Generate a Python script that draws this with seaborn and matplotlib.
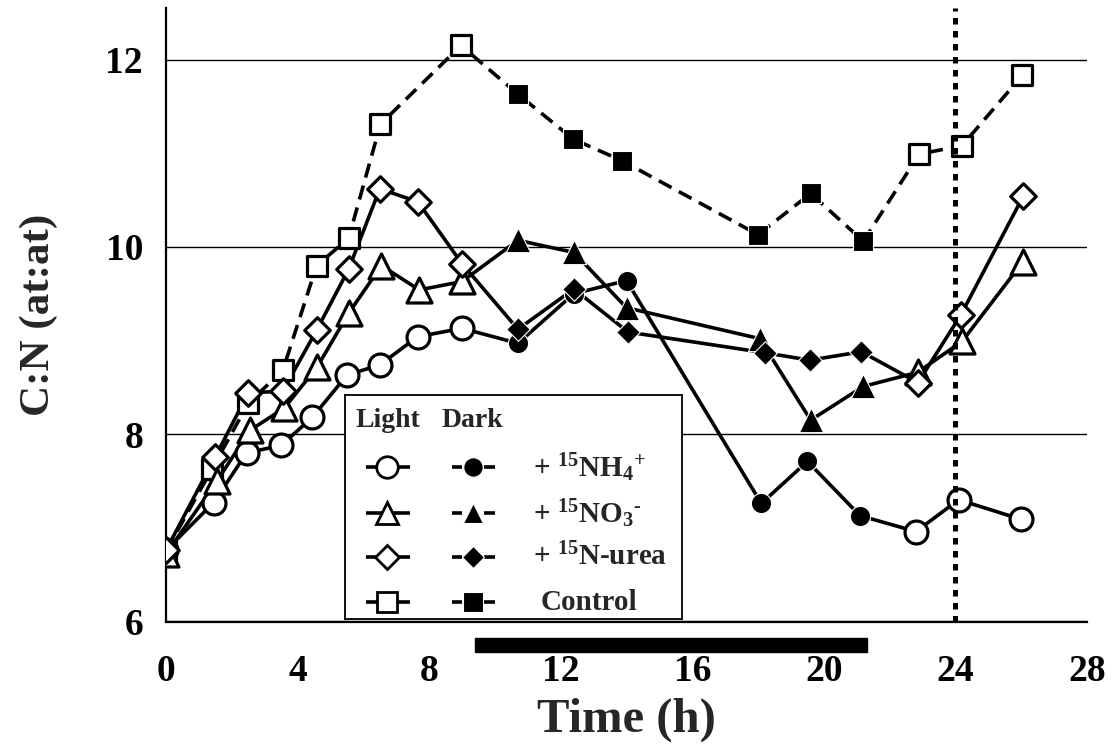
import numpy as np
import pandas as pd
import matplotlib
matplotlib.use("Agg")
import matplotlib.pyplot as plt
import matplotlib.transforms as mtransforms
from matplotlib.patches import Rectangle
import seaborn as sns

# ---------------- data ----------------
nh4_time = [0, 1.45, 2.45, 3.5, 4.45, 5.5, 6.5, 7.65, 9.0, 10.7, 12.4, 14.0, 18.1, 19.5, 21.1, 22.8, 24.1, 26.0]
nh4_cn = [6.76, 7.27, 7.80, 7.88, 8.18, 8.63, 8.74, 9.04, 9.13, 8.97, 9.50, 9.64, 7.26, 7.71, 7.13, 6.96, 7.30, 7.09]

no3_time = [0, 1.55, 2.55, 3.6, 4.6, 5.55, 6.55, 7.7, 9.0, 10.7, 12.4, 14.0, 18.05, 19.6, 21.2, 22.85, 24.2, 26.05]
no3_cn = [6.72, 7.50, 8.04, 8.28, 8.72, 9.29, 9.80, 9.54, 9.63, 10.07, 9.94, 9.35, 9.02, 8.15, 8.51, 8.66, 8.99, 9.84]

urea_time = [0, 1.5, 2.5, 3.55, 4.58, 5.55, 6.5, 7.66, 9.0, 10.7, 12.4, 14.05, 18.2, 19.57, 21.14, 22.86, 24.16, 26.06]
urea_cn = [6.76, 7.76, 8.44, 8.46, 9.11, 9.76, 10.62, 10.48, 9.82, 9.12, 9.55, 9.09, 8.87, 8.79, 8.88, 8.55, 9.27, 10.54]

ctrl_time = [0, 1.4, 2.5, 3.55, 4.58, 5.55, 6.52, 8.97, 10.7, 12.38, 13.86, 18.0, 19.6, 21.2, 22.9, 24.2, 26.03]
ctrl_cn = [6.75, 7.63, 8.33, 8.68, 9.80, 10.09, 11.31, 12.15, 11.63, 11.15, 10.92, 10.13, 10.57, 10.06, 10.99, 11.08, 11.83]

dark_period = [9.4, 21.3]
marker_24h = 24
x_ticks = [0, 4, 8, 12, 16, 20, 24, 28]
y_ticks = [6, 8, 10, 12]

series_labels = [r"+ $^{15}$NH$_{4}$$^{+}$", r"+ $^{15}$NO$_{3}$$^{\text{-}}$", r"+ $^{15}$N-urea", "Control"]

# ---------------- style ----------------
sns.set_style("white")
FONT = "Liberation Serif"
plt.rcParams["font.family"] = [FONT, "DejaVu Serif"]
plt.rcParams["font.weight"] = "bold"
plt.rcParams["mathtext.fontset"] = "custom"
plt.rcParams["mathtext.rm"] = FONT + ":bold"
plt.rcParams["mathtext.it"] = FONT + ":bold"
plt.rcParams["mathtext.bf"] = FONT + ":bold"
plt.rcParams["mathtext.default"] = "rm"

W, H = 1111, 750
fig = plt.figure(figsize=(W / 100, H / 100), dpi=100)
fig.patch.set_facecolor("white")
ax_l, ax_r, ax_b, ax_t = 166, 1087, 621.5, 8
ax = fig.add_axes([ax_l / W, 1 - ax_b / H, (ax_r - ax_l) / W, (ax_b - ax_t) / H])

LW = 2.6
specs = [
    # time, values, marker, open size(pt), filled size(pt), linestyle
    (nh4_time, nh4_cn, "o", 16.5, 14.5, "-"),
    (no3_time, no3_cn, "^", 18.0, 17.5, "-"),
    (urea_time, urea_cn, "D", 13.0, 12.0, "-"),
    (ctrl_time, ctrl_cn, "s", 15.0, 14.5, (0, (4, 2.3))),
]
draw_order = [3, 0, 1, 2]

for i in draw_order:
    t, v, m, so, sf, ls = specs[i]
    df = pd.DataFrame({"t": t, "v": v})
    sns.lineplot(data=df, x="t", y="v", ax=ax, color="black", linewidth=LW,
                 linestyle=ls, sort=False, estimator=None, zorder=2)

z = 3
for i in draw_order:
    t, v, m, so, sf, ls = specs[i]
    df = pd.DataFrame({"t": t, "v": v})
    dark = (df["t"] > dark_period[0]) & (df["t"] < dark_period[1])
    sns.scatterplot(data=df[~dark], x="t", y="v", ax=ax, marker=m, s=so ** 2,
                    color="white", edgecolor="black", linewidth=2.3, zorder=z)
    sns.scatterplot(data=df[dark], x="t", y="v", ax=ax, marker=m, s=sf ** 2,
                    color="black", edgecolor="white", linewidth=0.8, zorder=z)
    z += 1

ax.axvline(marker_24h, color="black", lw=3.6, linestyle=(0, (1.3, 1.3)),
           dash_capstyle="butt", zorder=6)

ax.set_xlim(0, 28)
ax.set_ylim(6, 12.55)
ax.set_xticks(x_ticks)
ax.set_yticks(y_ticks)
ax.set_xticklabels([str(x) for x in x_ticks])
ax.set_yticklabels([str(y) for y in y_ticks])
ax.yaxis.grid(True, color="black", lw=1.0)
ax.xaxis.grid(False)
ax.set_axisbelow(True)
for s in ["top", "right"]:
    ax.spines[s].set_visible(False)
for s in ["left", "bottom"]:
    ax.spines[s].set_color("black")
    ax.spines[s].set_linewidth(1.6)
ax.tick_params(axis="both", direction="out", length=7.5, width=1.4, colors="black",
               labelsize=27)
ax.tick_params(axis="x", pad=16)
ax.tick_params(axis="y", pad=9)
for lab in ax.get_xticklabels() + ax.get_yticklabels():
    lab.set_fontweight("bold")
ax.set_xlabel("Time (h)", fontsize=35, fontweight="bold", labelpad=6)
ax.set_ylabel("C:N (at:at)", fontsize=31, fontweight="bold", labelpad=34)

# dark period bar below the axis
trans = mtransforms.blended_transform_factory(ax.transData, ax.transAxes)
bar_top = (ax_b - 638) / (ax_b - ax_t)
bar_bot = (ax_b - 652) / (ax_b - ax_t)
ax.add_patch(Rectangle((dark_period[0], bar_bot), dark_period[1] - dark_period[0],
                       bar_top - bar_bot, transform=trans, color="black",
                       clip_on=False, zorder=5))

# ---------------- legend (custom box) ----------------
lx0, lx1, ly0, ly1 = 345, 682, 395, 619.3
lg = fig.add_axes([lx0 / W, 1 - ly1 / H, (lx1 - lx0) / W, (ly1 - ly0) / H])
lg.set_xlim(0, lx1 - lx0)
lg.set_ylim(0, ly1 - ly0)
lg.set_xticks([])
lg.set_yticks([])
lg.set_facecolor("white")
for s in lg.spines.values():
    s.set_color("black")
    s.set_linewidth(1.3)
    s.set_visible(True)

lg.text(10, 199, "Light", fontsize=20, fontweight="bold", va="center", ha="left")
lg.text(97, 199, "Dark", fontsize=20, fontweight="bold", va="center", ha="left")
rows_y = [152, 106, 62, 17]
leg_markers = [("o", 15.5, 14), ("^", 16.5, 14.5), ("D", 12, 11), ("s", 15, 14)]
for (m, so, sf), y, lab in zip(leg_markers, rows_y, series_labels):
    lg.plot([21, 65], [y, y], color="black", lw=LW, solid_capstyle="butt")
    lg.plot([42], [y], marker=m, ms=so, mfc="white", mec="black", mew=2.0, ls="none")
    lg.plot([107, 117], [y, y], color="black", lw=LW, solid_capstyle="butt")
    lg.plot([139, 150], [y, y], color="black", lw=LW, solid_capstyle="butt")
    lg.plot([128], [y], marker=m, ms=sf, mfc="black", mec="white", mew=0.8, ls="none")
    if lab == "Control":
        lg.text(196, y, lab, fontsize=21, fontweight="bold", va="center", ha="left")
    else:
        lg.text(188, y, lab, fontsize=21, fontweight="bold", va="center", ha="left")

fig.savefig("out.png", dpi=100, facecolor="white")
